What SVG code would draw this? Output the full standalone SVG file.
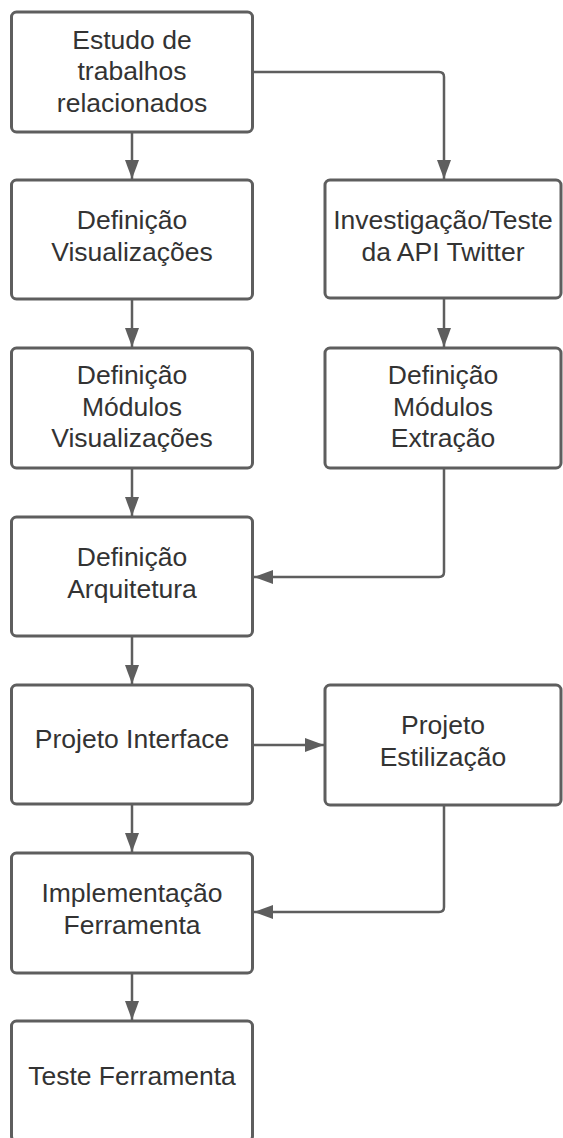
<svg xmlns="http://www.w3.org/2000/svg" width="563" height="1138" viewBox="0 0 563 1138">
<style>
.box{fill:#ffffff;stroke:#5e5e5e;stroke-width:3}
.lbl{font-family:"Liberation Sans",Arial,sans-serif;font-size:26.5px;fill:#333333;text-anchor:middle}
.con{fill:none;stroke:#5e5e5e;stroke-width:2.5}
</style>
<defs>
<marker id="ah" markerWidth="20" markerHeight="14" refX="19" refY="7" orient="auto" markerUnits="userSpaceOnUse">
<path d="M0,0 L19,7 L0,14 Z" fill="#5e5e5e"/>
</marker>
</defs>
<rect width="563" height="1138" fill="#ffffff"/>
<g id="connectors">
<path class="con" d="M132,133 L132,179" marker-end="url(#ah)"/>
<path class="con" d="M253,72 L439,72 Q444,72 444,77 L444,179" marker-end="url(#ah)"/>
<path class="con" d="M132,300 L132,347" marker-end="url(#ah)"/>
<path class="con" d="M444,299 L444,347" marker-end="url(#ah)"/>
<path class="con" d="M132,469 L132,516" marker-end="url(#ah)"/>
<path class="con" d="M444,469 L444,572 Q444,577 439,577 L254,577" marker-end="url(#ah)"/>
<path class="con" d="M132,637 L132,684" marker-end="url(#ah)"/>
<path class="con" d="M253,745 L324,745" marker-end="url(#ah)"/>
<path class="con" d="M132,805 L132,852" marker-end="url(#ah)"/>
<path class="con" d="M444,806 L444,907 Q444,912 439,912 L254,912" marker-end="url(#ah)"/>
<path class="con" d="M132,974 L132,1020" marker-end="url(#ah)"/>
</g>
<g id="n1">
<rect class="box" x="11.5" y="12" width="241" height="120" rx="5"/>
<text class="lbl" x="132" y="48.5">Estudo de</text>
<text class="lbl" x="132" y="80">trabalhos</text>
<text class="lbl" x="132" y="111.5">relacionados</text>
</g>
<g id="n2">
<rect class="box" x="11.5" y="180" width="241" height="119" rx="5"/>
<text class="lbl" x="132" y="229">Definição</text>
<text class="lbl" x="132" y="261">Visualizações</text>
</g>
<g id="n3">
<rect class="box" x="325" y="180" width="236" height="118" rx="5"/>
<text class="lbl" x="443" y="229">Investigação/Teste</text>
<text class="lbl" x="443" y="261">da API Twitter</text>
</g>
<g id="n4">
<rect class="box" x="11.5" y="348" width="241" height="120" rx="5"/>
<text class="lbl" x="132" y="384">Definição</text>
<text class="lbl" x="132" y="415.5">Módulos</text>
<text class="lbl" x="132" y="447">Visualizações</text>
</g>
<g id="n5">
<rect class="box" x="325" y="348" width="236" height="120" rx="5"/>
<text class="lbl" x="443" y="384">Definição</text>
<text class="lbl" x="443" y="415.5">Módulos</text>
<text class="lbl" x="443" y="447">Extração</text>
</g>
<g id="n6">
<rect class="box" x="11.5" y="517" width="241" height="119" rx="5"/>
<text class="lbl" x="132" y="566">Definição</text>
<text class="lbl" x="132" y="598">Arquitetura</text>
</g>
<g id="n7">
<rect class="box" x="11.5" y="685" width="241" height="119" rx="5"/>
<text class="lbl" x="132" y="748">Projeto Interface</text>
</g>
<g id="n8">
<rect class="box" x="325" y="685" width="236" height="120" rx="5"/>
<text class="lbl" x="443" y="734">Projeto</text>
<text class="lbl" x="443" y="766">Estilização</text>
</g>
<g id="n9">
<rect class="box" x="11.5" y="853" width="241" height="120" rx="5"/>
<text class="lbl" x="132" y="902">Implementação</text>
<text class="lbl" x="132" y="934">Ferramenta</text>
</g>
<g id="n10">
<rect class="box" x="11.5" y="1021" width="241" height="120" rx="5"/>
<text class="lbl" x="132" y="1085">Teste Ferramenta</text>
</g>
</svg>
